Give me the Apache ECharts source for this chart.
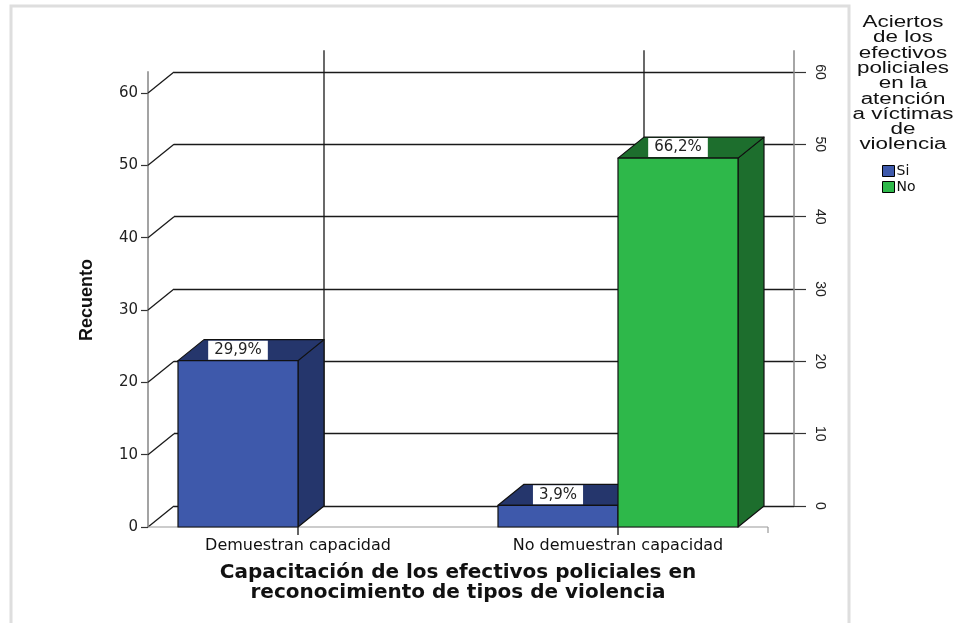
<!DOCTYPE html>
<html>
<head>
<meta charset="utf-8">
<script src="https://cdn.jsdelivr.net/npm/echarts@6/dist/echarts.min.js"></script>
<style>
  html, body { margin: 0; padding: 0; background: #fff; }
  #main { width: 960px; height: 623px; }
</style>
</head>
<body>
<div id="main"></div>
<script>
const categories = ['Demuestran capacidad', 'No demuestran capacidad']
const siValues = [23, 3]
const noValues = [0, 51]
const siLabels = ['29,9%', '3,9%']
const noLabels = ['', '66,2%']
const legendTitle = 'Aciertos\nde los\nefectivos\npoliciales\nen la\natención\na víctimas\nde\nviolencia'

// 3D depth offset in pixels, and bar width as part of a category band
const DX = 26
const DY = -21
const PAD = 10
const BAR_RATIO = 0.375
const Y_TOP = 63
const FONT = 'Liberation Sans, Arial, sans-serif'
const WIDE = 'DejaVu Sans, sans-serif'

const myChart = echarts.init(document.getElementById('main'))

const wallItem = (params, api) => {
  const cs = params.coordSys
  const L = cs.x + PAD
  const R = cs.x + cs.width - PAD
  const y = api.coord([0, api.value(1)])[1]
  const children = [{
    type: 'line',
    shape: { x1: L, y1: y, x2: L + DX, y2: y + DY },
    style: { stroke: '#1a1a1a', lineWidth: 1.3 },
  }]
  if (params.dataIndex === 0) {
    const yTop = api.coord([0, Y_TOP])[1]
    categories.forEach((c, i) => {
      const x = api.coord([i, 0])[0] + DX
      children.push({
        type: 'line',
        shape: { x1: x, y1: y + DY, x2: x, y2: yTop + DY },
        style: { stroke: '#1a1a1a', lineWidth: 1.3 },
      })
    })
    children.push({
      type: 'line',
      shape: { x1: L, y1: y, x2: L, y2: yTop },
      style: { stroke: '#666', lineWidth: 1.2 },
    }, {
      type: 'line',
      shape: { x1: R + DX, y1: y + DY, x2: R + DX, y2: yTop + DY },
      style: { stroke: '#888', lineWidth: 1.5 },
    }, {
      type: 'line',
      shape: { x1: L, y1: y, x2: R, y2: y },
      style: { stroke: '#999', lineWidth: 1.2 },
    }, {
      type: 'line',
      shape: { x1: R, y1: y, x2: R, y2: y + 6 },
      style: { stroke: '#999', lineWidth: 1.2 },
    })
  }
  return { type: 'group', children }
}

const barItem = (side, front, dark, labels) => (params, api) => {
  const cat = api.value(0)
  const v = api.value(1)
  if (!v) return null
  const base = api.coord([cat, 0])
  const top = api.coord([cat, v])
  const w = api.size([1, 0])[0] * BAR_RATIO
  const x0 = side === 0 ? base[0] - w : base[0]
  const x1 = x0 + w
  const y0 = base[1]
  const y1 = top[1]
  const edge = { stroke: '#111', lineWidth: 1.2, lineJoin: 'round' }
  const children = [{
    type: 'polygon',
    shape: { points: [[x1, y1], [x1 + DX, y1 + DY], [x1 + DX, y0 + DY], [x1, y0]] },
    style: { fill: dark, ...edge },
  }, {
    type: 'polygon',
    shape: { points: [[x0, y1], [x0 + DX, y1 + DY], [x1 + DX, y1 + DY], [x1, y1]] },
    style: { fill: dark, ...edge },
  }, {
    type: 'rect',
    shape: { x: x0, y: y1, width: w, height: y0 - y1 },
    style: { fill: front, ...edge },
  }]
  const txt = labels[params.dataIndex]
  if (txt) {
    children.push({
      type: 'text',
      x: (x0 + x1) / 2,
      y: y1 + DY / 2,
      style: {
        text: txt,
        font: `15px ${WIDE}`,
        fill: '#222',
        align: 'center',
        verticalAlign: 'middle',
        backgroundColor: '#fff',
        padding: [2, 6, 2, 6],
      },
    })
  }
  return { type: 'group', children }
}

const option = {
  animation: false,
  backgroundColor: '#fff',
  graphic: [{
    type: 'rect',
    z: -10,
    shape: { x: 11, y: 6, width: 838, height: 660 },
    style: { fill: 'none', stroke: '#dedede', lineWidth: 3 },
  }, {
    type: 'text',
    x: 903,
    y: 15,
    scaleX: 1.4,
    style: {
      text: legendTitle,
      font: `16px ${FONT}`,
      fill: '#111',
      align: 'center',
      textAlign: 'center',
      lineHeight: 15.3,
    },
  }],
  legend: {
    data: ['Si', 'No'],
    orient: 'vertical',
    left: 877,
    top: 158,
    icon: 'rect',
    itemWidth: 12,
    itemHeight: 11,
    itemGap: 0,
    textStyle: { fontSize: 14, fontFamily: WIDE, color: '#111', lineHeight: 16, padding: [0, 0, 0, -3] },
    itemStyle: { borderColor: '#000', borderWidth: 1 },
  },
  grid: [
    { left: 138, right: 182, top: 93, bottom: 96 },
    { left: 174, right: 166, top: 72, bottom: 117 },
  ],
  xAxis: [{
    type: 'category',
    gridIndex: 0,
    data: categories,
    axisLine: { show: false },
    axisTick: { show: true, alignWithLabel: true, length: 8, lineStyle: { color: '#333', width: 1.5 } },
    axisLabel: { margin: 11, fontSize: 16, fontFamily: WIDE, color: '#111' },
    name: 'Capacitación de los efectivos policiales en\nreconocimiento de tipos de violencia',
    nameLocation: 'middle',
    nameGap: 36,
    nameTextStyle: { fontSize: 20, fontWeight: 'bold', fontFamily: WIDE, color: '#111', lineHeight: 20 },
  }, {
    type: 'category',
    gridIndex: 1,
    data: categories,
    show: false,
  }],
  yAxis: [{
    type: 'value',
    gridIndex: 0,
    min: 0,
    max: 60,
    interval: 10,
    offset: -PAD,
    axisLine: { show: false },
    axisTick: { show: true, length: 7, lineStyle: { color: '#333', width: 1.2 } },
    axisLabel: { margin: 10, fontSize: 15, fontFamily: WIDE, color: '#222' },
    splitLine: { show: false },
    name: 'Recuento',
    nameLocation: 'middle',
    nameGap: 52,
    nameTextStyle: { fontSize: 18, fontWeight: 'bold', fontFamily: FONT, color: '#111', padding: [0, 0, 0, 20] },
  }, {
    type: 'value',
    gridIndex: 1,
    position: 'right',
    min: 0,
    max: 60,
    interval: 10,
    axisLine: { show: false },
    axisTick: { show: true, length: 12, lineStyle: { color: '#333', width: 1.2 } },
    axisLabel: { margin: 19, rotate: -90, fontSize: 14, fontFamily: FONT, color: '#222' },
    splitLine: { show: true, lineStyle: { color: '#1a1a1a', width: 1.3 } },
  }],
  series: [{
    type: 'custom',
    name: 'wall',
    xAxisIndex: 0,
    yAxisIndex: 0,
    z: 1,
    silent: true,
    renderItem: wallItem,
    data: [0, 10, 20, 30, 40, 50, 60].map((v) => [0, v]),
  }, {
    type: 'custom',
    name: 'Si',
    xAxisIndex: 0,
    yAxisIndex: 0,
    z: 3,
    itemStyle: { color: '#3e59ab' },
    renderItem: barItem(0, '#3e59ab', '#25366c', siLabels),
    data: siValues.map((v, i) => [i, v]),
  }, {
    type: 'custom',
    name: 'No',
    xAxisIndex: 0,
    yAxisIndex: 0,
    z: 4,
    itemStyle: { color: '#2eb84a' },
    renderItem: barItem(1, '#2eb84a', '#1d6e2d', noLabels),
    data: noValues.map((v, i) => [i, v]),
  }],
}

myChart.setOption(option)
</script>
</body>
</html>
